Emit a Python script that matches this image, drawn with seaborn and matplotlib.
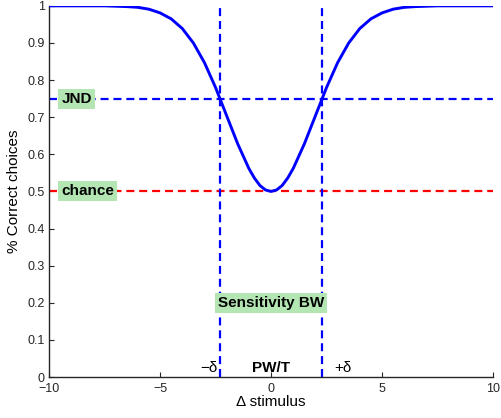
import matplotlib
matplotlib.use("Agg")
import matplotlib.pyplot as plt
import seaborn as sns
import pandas as pd

# Psychometric curve (symmetric around 0)
x_vals = [-10, -9, -8, -7.5, -7, -6.5, -6, -5.5, -5, -4.5, -4, -3.5, -3, -2.5, -2, -1.5, -1, -0.75, -0.5, -0.25,
          0, 0.25, 0.5, 0.75, 1, 1.5, 2, 2.5, 3, 3.5, 4, 4.5, 5, 5.5, 6, 6.5, 7, 7.5, 8, 9, 10]
y_vals = [1.0, 1.0, 1.0, 1.0, 0.999, 0.998, 0.996, 0.991, 0.981, 0.965, 0.939, 0.900, 0.847, 0.780, 0.704, 0.628, 0.562, 0.536, 0.516, 0.504,
          0.5, 0.504, 0.516, 0.536, 0.562, 0.628, 0.704, 0.780, 0.847, 0.900, 0.939, 0.965, 0.981, 0.991, 0.996, 0.998, 0.999, 1.0, 1.0, 1.0, 1.0]

jnd_level = 0.75
chance_level = 0.5
delta = 2.3

x_ticks = [-10, -5, 0, 5, 10]
x_tick_labels = ["\u221210", "\u22125", "0", "5", "10"]
y_ticks = [0, 0.1, 0.2, 0.3, 0.4, 0.5, 0.6, 0.7, 0.8, 0.9, 1]
y_tick_labels = ["0", "0.1", "0.2", "0.3", "0.4", "0.5", "0.6", "0.7", "0.8", "0.9", "1"]

sns.set_style("ticks")
plt.rcParams['font.family'] = ['Liberation Sans', 'DejaVu Sans']
plt.rcParams['text.color'] = 'black'
plt.rcParams['axes.labelcolor'] = 'black'

fig = plt.figure(figsize=(5.01, 4.18), dpi=100)
ax = fig.add_axes([0.098, 0.098, 0.886, 0.888])

df = pd.DataFrame({"x": x_vals, "y": y_vals})
sns.lineplot(data=df, x="x", y="y", ax=ax, color="#0000ff", linewidth=2.1, zorder=3)

dash = (0, (3.6, 2.2))
ax.axhline(jnd_level, color="#0000ff", lw=1.6, ls=dash, zorder=2)
ax.axhline(chance_level, color="#ff0000", lw=1.6, ls=dash, zorder=2)
ax.axvline(-delta, color="#0000ff", lw=1.6, ls=dash, zorder=2)
ax.axvline(delta, color="#0000ff", lw=1.6, ls=dash, zorder=2)

box = dict(facecolor="#b3e6b3", edgecolor="none", boxstyle="square,pad=0.2")
fs = 11
ax.text(-9.45, jnd_level, "JND", fontsize=fs, fontweight="bold", va="center", ha="left", bbox=box, zorder=4)
ax.text(-9.45, chance_level, "chance", fontsize=fs, fontweight="bold", va="center", ha="left", bbox=box, zorder=4)
ax.text(0, 0.2, "Sensitivity BW", fontsize=fs, fontweight="bold", va="center", ha="center", bbox=box, zorder=4)
ax.text(0, 0.006, "PW/T", fontsize=fs, fontweight="bold", va="bottom", ha="center", zorder=4)
ax.text(-delta - 0.12, 0.006, "\u2212\u03b4", fontsize=fs, va="bottom", ha="right", zorder=4)
ax.text(delta + 0.55, 0.006, "+\u03b4", fontsize=fs, va="bottom", ha="left", zorder=4)

ax.set_xlim(-10, 10)
ax.set_ylim(0, 1)
ax.set_xticks(x_ticks)
ax.set_xticklabels(x_tick_labels)
ax.set_yticks(y_ticks)
ax.set_yticklabels(y_tick_labels)
ax.tick_params(direction="in", length=3.5, width=0.8, labelsize=9, colors="#262626")
ax.tick_params(axis="x", pad=4.5)
ax.tick_params(axis="y", pad=3)
ax.set_xlabel("\u0394 stimulus", fontsize=fs, labelpad=0)
ax.set_ylabel("% Correct choices", fontsize=fs, labelpad=5)
for s in ["top", "right"]:
    ax.spines[s].set_visible(False)
for s in ["left", "bottom"]:
    ax.spines[s].set_linewidth(1.0)
    ax.spines[s].set_color("#262626")

fig.savefig("out.png", dpi=100)
